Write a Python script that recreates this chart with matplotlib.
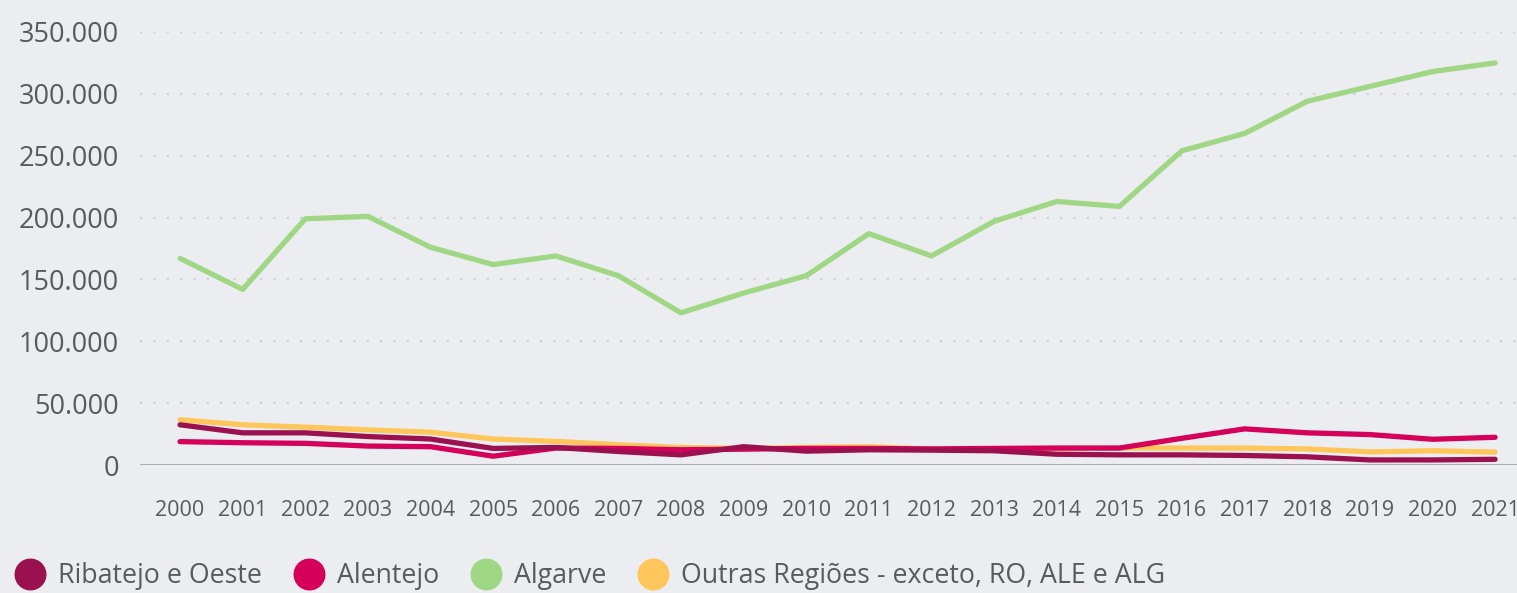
import matplotlib
matplotlib.use("Agg")
import numpy as np
from matplotlib import pyplot as plt
from matplotlib.lines import Line2D
from matplotlib.ticker import FuncFormatter

# dados
anos = list(range(2000, 2022))
ribatejo = [32500, 26000, 26000, 23000, 21000, 13400, 14200, 10900, 8200, 14800, 11200,
            12300, 12000, 11500, 8700, 8200, 8200, 7700, 6600, 4100, 4100, 4600]
alentejo = [18900, 18000, 17500, 15300, 14800, 7100, 13700, 13400, 12300, 12800, 13400,
            13400, 13000, 13400, 13700, 13700, 21600, 29200, 26000, 24600, 20800, 22400]
algarve = [167000, 142000, 199000, 201000, 176000, 162000, 169000, 153000, 123000, 139000, 153000,
           187000, 169000, 197000, 213000, 209000, 254000, 268000, 294000, 306000, 318000, 325000]
outras = [36600, 32500, 30600, 28400, 26500, 21000, 19100, 16400, 14200, 13400, 14200,
          14800, 12800, 12800, 13400, 13700, 13700, 13700, 13000, 10600, 11500, 10400]

nomes = ["Ribatejo e Oeste", "Alentejo", "Algarve", "Outras Regiões - exceto, RO, ALE e ALG"]
cores = ["#9b1150", "#d4005a", "#a0d785", "#ffc65c"]

plt.rcParams['font.family'] = ['Open Sans', 'DejaVu Sans']
fundo = "#ecedf1"
cinza = "#555b5e"

fig = plt.figure(figsize=(15.17, 5.93), dpi=100, facecolor=fundo)
ax = fig.add_axes([140 / 1517, 128 / 593, 1377 / 1517, 433 / 593])
ax.set_facecolor(fundo)

ax.plot(anos, algarve, color=cores[2], lw=3.8, solid_capstyle='round', zorder=3)
ax.plot(anos, outras, color=cores[3], lw=3.8, solid_capstyle='round', zorder=4)
ax.plot(anos, alentejo, color=cores[1], lw=3.8, solid_capstyle='round', zorder=5)
ax.plot(anos, ribatejo, color=cores[0], lw=3.8, solid_capstyle='round', zorder=6)

ax.set_xlim(1999.36, 2021.35)
ax.set_ylim(0, 350000)
ax.set_yticks(np.arange(0, 350001, 50000))
ax.yaxis.set_major_formatter(FuncFormatter(lambda v, p: f"{int(v):,}".replace(",", ".")))
ax.set_xticks(anos)
ax.set_xticklabels([str(a) for a in anos])

ax.grid(axis='y', color="#cfd1d6", linestyle=(0, (1, 5)), lw=1.6)
ax.axhline(0, color="#aaabb0", lw=2.2, zorder=2)
for s in ax.spines.values():
    s.set_visible(False)
ax.tick_params(axis='y', length=0, pad=15, labelsize=19.5, labelcolor=cinza)
ax.tick_params(axis='x', length=0, pad=25, labelsize=15.5, labelcolor=cinza)

handles = [Line2D([], [], linestyle='none', marker='o', markersize=22, color=c) for c in cores]
fig.legend(handles, nomes, loc='lower left', bbox_to_anchor=(-0.007, -0.036), ncol=4,
           frameon=False, fontsize=19.3, labelcolor=cinza, handletextpad=0.45,
           columnspacing=1.15, handlelength=1.2)

fig.savefig("out.png", dpi=100, facecolor=fundo)
